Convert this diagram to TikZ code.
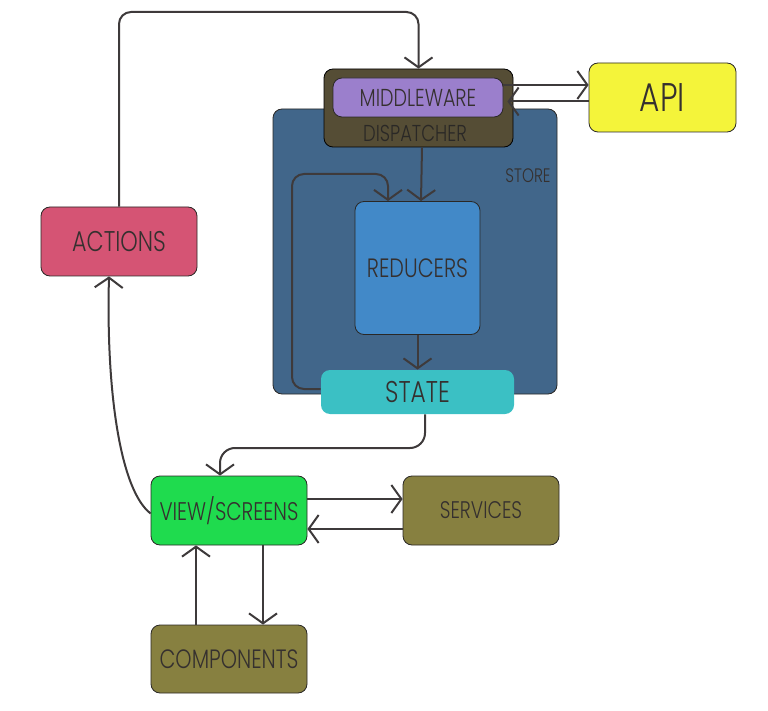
\documentclass[tikz,border=0pt]{standalone}
\usepackage{fontspec}
\IfFontExistsTF{Poppins Light}{\setmainfont{Poppins Light}[FakeStretch=0.78]}{\setmainfont{Poppins}[FakeStretch=0.78]}
\usetikzlibrary{arrows.meta,calc}
\definecolor{cact}{HTML}{D55474}
\definecolor{cdisp}{HTML}{554D35}
\definecolor{cmw}{HTML}{9B7FCC}
\definecolor{cstore}{HTML}{41668A}
\definecolor{cred}{HTML}{4289C8}
\definecolor{cstate}{HTML}{3BC0C4}
\definecolor{capi}{HTML}{F4F43A}
\definecolor{cview}{HTML}{1FDB4E}
\definecolor{colive}{HTML}{878040}
\definecolor{cline}{HTML}{3E3A3B}
\definecolor{ctext}{HTML}{35302F}
\definecolor{cborder}{HTML}{2A2826}
\tikzset{
  box/.style={draw=cborder, line width=0.8pt, rounded corners=9pt, inner sep=0pt, text=ctext},
  conn/.style={draw=cline, line width=2pt, -{Straight Barb[length=10pt,width=28pt,line width=2pt]}},
  fs/.style={font=\fontsize{#1}{#1}\selectfont}
}
\begin{document}
\begin{tikzpicture}[x=1pt,y=-1pt]
\useasboundingbox (0,0) rectangle (768,711);
% store
\node[box, fill=cstore, minimum width=284pt, minimum height=285pt] (store) at (415,251.5) {};
\node[fs=19.5, text=ctext] (storelbl) at (528,176) {STORE};
% dispatcher
\node[box, fill=cdisp, draw=black, minimum width=189pt, minimum height=78pt] (disp) at (418.5,108) {};
\node[fs=23, text=cborder] (displbl) at (415,133) {DISPATCHER};
\node[box, fill=cmw, minimum width=170pt, minimum height=39pt, fs=24.5] (mw) at (418,97.5) {MIDDLEWARE};
% reducers, state
\node[box, fill=cred, minimum width=125pt, minimum height=133pt, fs=26.5] (red) at (417.5,268) {REDUCERS};
\node[box, draw=none, fill=cstate, minimum width=193pt, minimum height=44pt, fs=30] (state) at (417.5,392) {STATE};
% others
\node[box, fill=capi, minimum width=147pt, minimum height=69pt, fs=40] (api) at (662.5,97.5) {API};
\node[box, fill=cact, minimum width=156pt, minimum height=69pt, fs=28.5] (act) at (119,241.5) {ACTIONS};
\node[box, fill=cview, minimum width=156pt, minimum height=69pt, fs=25.5] (view) at (229,510.5) {VIEW/SCREENS};
\node[box, fill=colive, minimum width=156pt, minimum height=69pt, fs=24] (serv) at (481,510.5) {SERVICES};
\node[box, fill=colive, minimum width=156pt, minimum height=68pt, fs=26.5] (comp) at (229,659) {COMPONENTS};
% connectors
\coordinate (topc) at (119,12);
\draw[conn, rounded corners=12pt] (act.north) |- (topc -| disp.north) -- (disp.north);
\draw[conn] ([xshift=3.5pt]disp.south) -- ([xshift=3.5pt]red.north);
\coordinate (loopc) at (292,174);
\draw[conn, rounded corners=12pt] ([yshift=3pt]state.west) -| (loopc) -| ([xshift=-29.5pt]red.north);
\draw[conn] (red.south) -- (state.north);
\coordinate (vc) at (220,448);
\draw[conn, rounded corners=15pt] ([xshift=7.5pt]state.south) |- (vc) -- (vc |- view.north);
\draw[conn] ([yshift=-3pt]view.west) .. controls (120,490) and (106,390) .. ([xshift=-10pt]act.south);
\draw[conn] ([yshift=11.5pt]view.east) -- ([yshift=11.5pt]serv.west);
\draw[conn] ([yshift=-18.5pt]serv.west) -- ([yshift=-18.5pt]view.east);
\draw[conn] ([xshift=-33pt]comp.north) -- ([xshift=-33pt]view.south);
\draw[conn] ([xshift=34pt]view.south) -- ([xshift=34pt]comp.north);
\draw[conn] ([yshift=12.5pt]mw.east) -- ([yshift=12.5pt]api.west);
\draw[conn] ([yshift=-4pt]api.west) -- ([yshift=-4pt,xshift=4pt]mw.east);
\end{tikzpicture}
\end{document}
